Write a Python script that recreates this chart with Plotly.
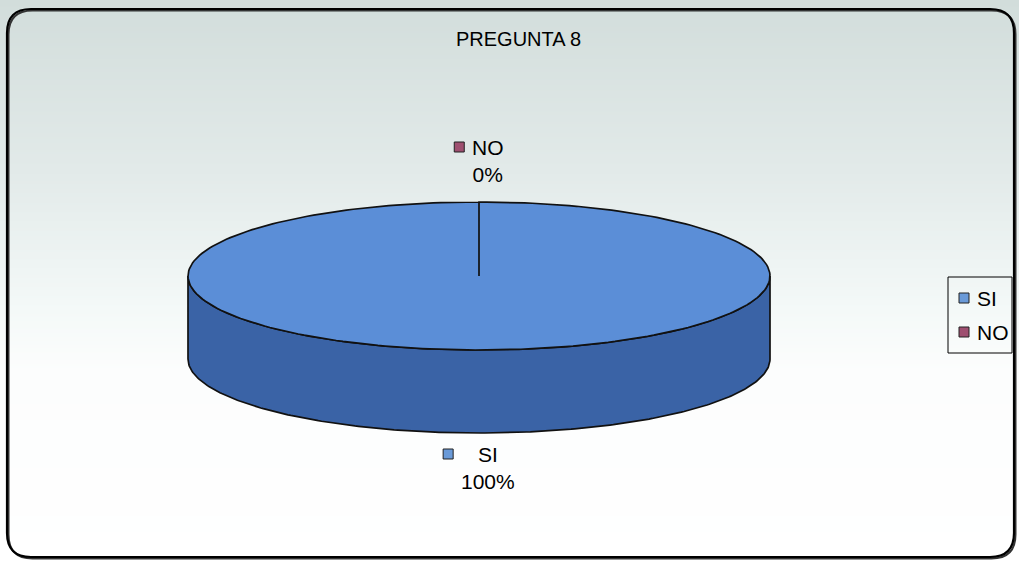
import numpy as np
import plotly.graph_objects as go

# ---- data ----
categories = ["SI", "NO"]
values = [100, 0]
title_text = "PREGUNTA 8"

# ---- canvas / geometry (pixel space) ----
W, H = 1019, 563
CX, CY = 479, 276          # centre of the pie's top face
RX, RY = 291, 74           # ellipse radii of the tilted disc
DEPTH = 83                 # thickness of the disc
START_DEG = 90             # first slice starts at 12 o'clock, clockwise
LABEL_GAP = 38
LABEL_LIFT = 3
FONT = "Liberation Sans, Arial, sans-serif"
FS = 21

TOP_COLORS = ["#5b8ed7", "#9b4d6e"]
SIDE_COLORS = ["#3a63a6", "#6e2f4c"]
KEY_COLORS = ["#6a9ad8", "#9e4f70"]

# Arial advance widths (em) used to centre label blocks
CHAR_W = {"0": .556, "1": .556, "%": .889, "N": .722, "O": .778, "S": .667, "I": .278}


def text_width(s):
    return sum(CHAR_W.get(c, .6) for c in s) * FS


def arc(t_from, t_to, dy=0.0, n=240):
    t = np.radians(np.linspace(t_from, t_to, n))
    return CX + RX * np.cos(t), CY - RY * np.sin(t) + dy


fig = go.Figure()

# background: vertical grey-to-white wash
yb = np.linspace(0, H, 142)
ymid = (yb[:-1] + yb[1:]) / 2
fig.add_trace(go.Heatmap(
    x=[0, W], y=yb, z=ymid.reshape(-1, 1), zmin=0, zmax=H,
    colorscale=[[0, "#d2dddb"], [0.30, "#e2eae9"], [0.55, "#f4f9f8"],
                [0.66, "#fcfdfd"], [1, "#ffffff"]],
    showscale=False, hoverinfo="skip", zsmooth="best"))

total = float(sum(values))
fracs = [v / total for v in values]
cum = np.concatenate([[0], np.cumsum(fracs)])
t_start = [START_DEG - 360 * c for c in cum[:-1]]
t_end = [START_DEG - 360 * c for c in cum[1:]]
t_mid = [(a + b) / 2 for a, b in zip(t_start, t_end)]

# side walls (front half of the rim only)
for i, cat in enumerate(categories):
    if fracs[i] <= 0:
        continue
    lo, hi = max(t_end[i], -180), min(t_start[i], 0)
    if lo >= hi:
        continue
    xt, yt = arc(hi, lo)
    xb, yb2 = arc(lo, hi, DEPTH)
    fig.add_trace(go.Scatter(
        x=np.concatenate([xt, xb, xt[:1]]), y=np.concatenate([yt, yb2, yt[:1]]),
        mode="lines", fill="toself", fillcolor=SIDE_COLORS[i],
        line=dict(color="#111111", width=1.7), hoverinfo="skip", showlegend=False))

# top faces
for i, cat in enumerate(categories):
    if fracs[i] <= 0:
        continue
    xa, ya = arc(t_start[i], t_end[i])
    fig.add_trace(go.Scatter(
        x=np.concatenate([[CX], xa, [CX]]), y=np.concatenate([[CY], ya, [CY]]),
        mode="lines", fill="toself", fillcolor=TOP_COLORS[i],
        line=dict(color="#111111", width=1.7), hoverinfo="skip", showlegend=False))

# data labels: legend key + category on the first line, percentage below
annotations = []
key_x, key_y = [], []
for i, cat in enumerate(categories):
    th = np.radians(t_mid[i])
    s = np.sin(th)
    lx = CX + (RX + LABEL_GAP) * np.cos(th)
    ly = CY - (RY + LABEL_GAP) * s + (DEPTH if s < 0 else 0) - LABEL_LIFT
    pct = f"{round(fracs[i] * 100)}%"
    tw = max(text_width(cat), text_width(pct))
    block = 10 + 8 + tw
    key_x.append(lx - block / 2 + 5)
    key_y.append(ly - 14)
    annotations.append(dict(
        x=lx - block / 2 + 18 + tw / 2, y=ly, text=f"{cat}<br>{pct}",
        showarrow=False, xanchor="center", yanchor="middle", align="center",
        font=dict(family=FONT, size=FS, color="#000000")))

fig.add_trace(go.Scatter(
    x=key_x, y=key_y, mode="markers",
    marker=dict(symbol="square", size=10, color=KEY_COLORS,
                line=dict(color="#222222", width=1)),
    hoverinfo="skip", showlegend=False))

# legend on the right
LEG_X0, LEG_Y0, LEG_X1, LEG_Y1 = 948, 277, 1012, 353
leg_rows = [LEG_Y0 + 21 + 34 * k for k in range(len(categories))]
fig.add_trace(go.Scatter(
    x=[LEG_X0 + 16] * len(categories), y=leg_rows, mode="markers",
    marker=dict(symbol="square", size=10, color=KEY_COLORS,
                line=dict(color="#222222", width=1)),
    hoverinfo="skip", showlegend=False))
for k, cat in enumerate(categories):
    annotations.append(dict(
        x=LEG_X0 + 27, y=leg_rows[k], text=cat, showarrow=False,
        xanchor="left", yanchor="middle",
        font=dict(family=FONT, size=FS, color="#000000")))

# title
annotations.append(dict(
    x=518, y=39, text=title_text, showarrow=False, xanchor="center", yanchor="middle",
    font=dict(family=FONT, size=20, color="#000000")))

# rounded frame with a slight drop shadow
x0, y0, x1, y1, r = 7, 9, 1014, 557, 24


def rounded(dx):
    a0, b0, a1, b1 = x0 + dx, y0 + dx, x1 + dx, y1 + dx
    return (f"M {a0 + r},{b0} L {a1 - r},{b0} Q {a1},{b0} {a1},{b0 + r} "
            f"L {a1},{b1 - r} Q {a1},{b1} {a1 - r},{b1} L {a0 + r},{b1} "
            f"Q {a0},{b1} {a0},{b1 - r} L {a0},{b0 + r} Q {a0},{b0} {a0 + r},{b0} Z")


fig.update_layout(
    width=W, height=H, margin=dict(l=0, r=0, t=0, b=0),
    paper_bgcolor="#ffffff", plot_bgcolor="#ffffff",
    xaxis=dict(range=[0, W], visible=False, fixedrange=True),
    yaxis=dict(range=[H, 0], visible=False, fixedrange=True),
    showlegend=False, annotations=annotations,
    shapes=[
        dict(type="path", path=rounded(1.5), line=dict(color="#333333", width=2), layer="above"),
        dict(type="path", path=rounded(0), line=dict(color="#000000", width=2.2), layer="above"),
        dict(type="rect", x0=LEG_X0, y0=LEG_Y0, x1=LEG_X1, y1=LEG_Y1,
             line=dict(color="#000000", width=1), layer="above"),
    ],
)

fig.write_html("out.html")
